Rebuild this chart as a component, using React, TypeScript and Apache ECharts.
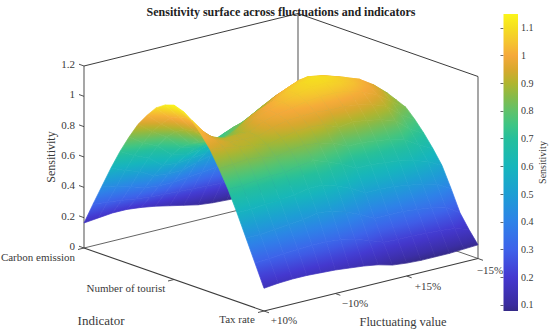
import React, { useEffect, useRef } from "react";
import * as echarts from "echarts";

const title = "Sensitivity surface across fluctuations and indicators";
const indicators = ["Carbon emission", "Number of tourist", "Tax rate"];
const fluctuations = ["+10%", "\u221210%", "+15%", "\u221215%"];
const zTicks = [0, 0.2, 0.4, 0.6, 0.8, 1, 1.2];
const barTicks = [0.1, 0.2, 0.3, 0.4, 0.5, 0.6, 0.7, 0.8, 0.9, 1, 1.1];
const barMin = 0.078;
const barMax = 1.15;

const colorValues = [0.078, 0.1, 0.2, 0.3, 0.4, 0.5, 0.6, 0.7, 0.75, 0.8, 0.85, 0.9, 0.95, 1.0, 1.05, 1.1, 1.15];
const colorHexes = ["#352a87", "#3a2c9e", "#4438d0", "#3e62ea", "#2e82e8", "#1d9ed4", "#16b6bc", "#25bf9c", "#3ec584", "#5fc26a", "#85bb4a", "#b0b52e", "#d9a82e", "#f5a93a", "#f5c52f", "#f5de20", "#fbf51a"];

// One list per fluctuation position (+10% ... -15%), values from Carbon emission to Tax rate.
const sensitivity = [
  [0.165, 0.31, 0.45, 0.59, 0.72, 0.835, 0.94, 1.02, 1.09, 1.13, 1.15, 1.13, 1.09, 1.02, 0.94, 0.835, 0.72, 0.585, 0.44, 0.295, 0.15],
  [0.175, 0.3, 0.42, 0.55, 0.67, 0.775, 0.87, 0.94, 1.0, 1.03, 1.04, 1.0, 0.975, 0.96, 0.93, 0.84, 0.72, 0.585, 0.44, 0.3, 0.16],
  [0.185, 0.29, 0.4, 0.52, 0.63, 0.73, 0.81, 0.865, 0.9, 0.915, 0.92, 0.915, 0.915, 0.925, 0.91, 0.85, 0.73, 0.595, 0.45, 0.31, 0.165],
  [0.185, 0.275, 0.37, 0.47, 0.56, 0.65, 0.72, 0.765, 0.795, 0.82, 0.85, 0.88, 0.92, 0.92, 0.9, 0.84, 0.74, 0.6, 0.46, 0.315, 0.165],
  [0.175, 0.265, 0.36, 0.46, 0.55, 0.625, 0.69, 0.735, 0.775, 0.81, 0.86, 0.9, 0.92, 0.915, 0.88, 0.82, 0.74, 0.61, 0.47, 0.32, 0.16],
  [0.16, 0.26, 0.36, 0.46, 0.56, 0.64, 0.7, 0.745, 0.79, 0.855, 0.93, 0.97, 0.97, 0.945, 0.9, 0.84, 0.76, 0.63, 0.49, 0.32, 0.155],
  [0.14, 0.255, 0.37, 0.49, 0.57, 0.66, 0.74, 0.8, 0.85, 0.92, 0.98, 1.0, 0.995, 0.97, 0.92, 0.85, 0.77, 0.63, 0.48, 0.31, 0.145],
  [0.12, 0.25, 0.38, 0.51, 0.63, 0.71, 0.77, 0.83, 0.89, 0.96, 1.02, 1.03, 1.01, 0.975, 0.925, 0.84, 0.74, 0.6, 0.45, 0.29, 0.135],
  [0.1, 0.245, 0.39, 0.525, 0.65, 0.74, 0.82, 0.89, 0.95, 1.02, 1.06, 1.06, 1.03, 0.98, 0.92, 0.82, 0.7, 0.56, 0.41, 0.26, 0.12],
  [0.09, 0.24, 0.39, 0.53, 0.66, 0.77, 0.87, 0.94, 1.0, 1.06, 1.09, 1.08, 1.04, 0.97, 0.88, 0.775, 0.65, 0.51, 0.36, 0.225, 0.095],
  [0.085, 0.24, 0.4, 0.54, 0.67, 0.785, 0.89, 0.97, 1.04, 1.085, 1.105, 1.085, 1.04, 0.97, 0.89, 0.775, 0.65, 0.51, 0.36, 0.22, 0.085],
  [0.08, 0.235, 0.39, 0.53, 0.66, 0.775, 0.88, 0.96, 1.03, 1.07, 1.085, 1.07, 1.03, 0.96, 0.88, 0.765, 0.64, 0.505, 0.36, 0.22, 0.08],
  [0.08, 0.23, 0.38, 0.52, 0.65, 0.76, 0.86, 0.94, 1.0, 1.04, 1.055, 1.04, 1.0, 0.94, 0.86, 0.75, 0.63, 0.49, 0.35, 0.215, 0.08],
  [0.08, 0.225, 0.37, 0.505, 0.63, 0.735, 0.83, 0.905, 0.96, 1.0, 1.02, 1.0, 0.96, 0.905, 0.83, 0.725, 0.61, 0.475, 0.34, 0.21, 0.08],
  [0.08, 0.215, 0.35, 0.475, 0.59, 0.69, 0.78, 0.85, 0.91, 0.945, 0.96, 0.935, 0.89, 0.825, 0.75, 0.67, 0.58, 0.45, 0.32, 0.2, 0.085],
  [0.08, 0.205, 0.33, 0.45, 0.56, 0.66, 0.74, 0.81, 0.87, 0.885, 0.88, 0.855, 0.83, 0.77, 0.7, 0.62, 0.53, 0.4, 0.26, 0.17, 0.09],
];

const SERIF = '"Liberation Serif", "Times New Roman", serif';
const TEXT = "#3a3a3a";

// Parallel projection of the 3-D box onto the page plane.
const ORIGIN = [84, 248];
const U_VEC = [180, 63];
const V_VEC = [214, -52.5];
const Z_SCALE = 151.67;
const project = (u: number, v: number, z: number) => [
  ORIGIN[0] + u * U_VEC[0] + v * V_VEC[0],
  ORIGIN[1] + u * U_VEC[1] + v * V_VEC[1] - z * Z_SCALE,
];

const parse = (h: string) => [1, 3, 5].map((i) => parseInt(h.slice(i, i + 2), 16));
const colorAt = (z: number) => {
  const c = Math.max(barMin, Math.min(barMax, z));
  let k = 0;
  while (k < colorValues.length - 2 && c > colorValues[k + 1]) k++;
  const t = (c - colorValues[k]) / (colorValues[k + 1] - colorValues[k]);
  const a = parse(colorHexes[k]);
  const b = parse(colorHexes[k + 1]);
  return `rgb(${a.map((x, i) => Math.round(x + (b[i] - x) * t)).join(",")})`;
};

const nV = sensitivity.length;
const nU = sensitivity[0].length;
const cells: number[][] = [];
for (let iu = 0; iu < nU - 1; iu++) {
  for (let iv = nV - 2; iv >= 0; iv--) cells.push([iu, iv]);
}

function quadFill(pts: number[][], zs: number[]) {
  const n = 4;
  const mx = pts.reduce((s, p) => s + p[0], 0) / n;
  const my = pts.reduce((s, p) => s + p[1], 0) / n;
  const mz = zs.reduce((s, z) => s + z, 0) / n;
  let sxx = 0, sxy = 0, syy = 0, sxz = 0, syz = 0;
  pts.forEach((p, i) => {
    const dx = p[0] - mx, dy = p[1] - my, dz = zs[i] - mz;
    sxx += dx * dx; sxy += dx * dy; syy += dy * dy; sxz += dx * dz; syz += dy * dz;
  });
  const det = sxx * syy - sxy * sxy;
  const zMin = Math.min(...zs), zMax = Math.max(...zs);
  if (Math.abs(det) < 1 || zMax - zMin < 1e-4) return colorAt(mz);
  const a = (sxz * syy - syz * sxy) / det;
  const b = (syz * sxx - sxz * sxy) / det;
  const g2 = a * a + b * b;
  if (g2 < 1e-10) return colorAt(mz);
  const x0 = mx + (a * (zMin - mz)) / g2, y0 = my + (b * (zMin - mz)) / g2;
  const x1 = mx + (a * (zMax - mz)) / g2, y1 = my + (b * (zMax - mz)) / g2;
  const stops = [0, 0.25, 0.5, 0.75, 1].map((o) => ({ offset: o, color: colorAt(zMin + (zMax - zMin) * o) }));
  return new echarts.graphic.LinearGradient(x0, y0, x1, y1, stops, true);
}

const line = (api: any, a: number[], b: number[], stroke: string, lineWidth: number) => {
  const p = api.coord(a), q = api.coord(b);
  return { type: "line", shape: { x1: p[0], y1: p[1], x2: q[0], y2: q[1] }, style: { stroke, lineWidth } };
};
const label = (api: any, at: number[], text: string, fontSize: number, align = "center", rotation = 0) => {
  const p = api.coord(at);
  return {
    type: "text", x: p[0], y: p[1], rotation,
    style: { text, fontSize, fontFamily: SERIF, fill: TEXT, align, verticalAlign: "middle" },
  };
};

function frameItems(_: any, api: any) {
  const dark = "#3c3c3c";
  const grey = "#777777";
  const L = [project(0, 0, 0), project(0, 0, 1.2)];
  const B = [project(0, 1, 0), project(0, 1, 1.2)];
  const R = [project(1, 1, 0), project(1, 1, 1.2)];
  const F = project(1, 0, 0);
  const kids: any[] = [
    line(api, L[0], L[1], grey, 1.3),
    line(api, B[0], B[1], grey, 1.3),
    line(api, R[0], R[1], grey, 1.3),
    line(api, L[1], B[1], dark, 1),
    line(api, B[1], R[1], dark, 1),
    line(api, L[0], B[0], dark, 0.8),
    line(api, B[0], R[0], dark, 0.8),
    line(api, L[0], F, dark, 1.1),
    line(api, F, R[0], dark, 1.1),
  ];
  zTicks.forEach((t) => {
    const p = project(0, 0, t);
    kids.push(line(api, p, [p[0] - 5, p[1] - 1.8], dark, 0.9));
    kids.push(label(api, [p[0] - 9, p[1] - 2], String(t), 11, "right"));
  });
  indicators.forEach((_t, i) => {
    const p = project(i / (indicators.length - 1), 0, 0);
    kids.push(line(api, p, [p[0] - 6, p[1] + 1.5], dark, 0.9));
  });
  fluctuations.forEach((_t, i) => {
    const p = project(1, i / (fluctuations.length - 1), 0);
    kids.push(line(api, p, [p[0] + 5, p[1] + 1.8], dark, 0.9));
  });
  const indicatorAnchors = [[38, 257], [126, 288], [237, 319]];
  indicators.forEach((t, i) => kids.push(label(api, indicatorAnchors[i], t, 11)));
  const fluctuationAnchors = [[284, 320], [355, 303], [428, 286], [490, 270]];
  fluctuations.forEach((t, i) => kids.push(label(api, fluctuationAnchors[i], t, 11)));
  kids.push(label(api, [101, 320], "Indicator", 13));
  kids.push(label(api, [403, 322], "Fluctuating value", 12.5));
  kids.push(label(api, [51, 157], "Sensitivity", 12, "center", Math.PI / 2));
  return { type: "group", children: kids };
}

function surfaceItem(_: any, api: any) {
  const iu = api.value(0), iv = api.value(1);
  const corners = [[iu, iv], [iu + 1, iv], [iu + 1, iv + 1], [iu, iv + 1]];
  const zs = corners.map(([a, b]) => sensitivity[b][a]);
  const pts = corners.map(([a, b], k) => api.coord(project(a / (nU - 1), b / (nV - 1), zs[k])));
  const fill = quadFill(pts, zs);
  return { type: "polygon", shape: { points: pts }, style: { fill, stroke: fill, lineWidth: 0.7 } };
}

function barItem(_: any, api: any) {
  const top = api.coord([0, barMax]);
  const bottom = api.coord([1, barMin]);
  const stops = colorValues.map((v, i) => ({ offset: (barMax - v) / (barMax - barMin), color: colorHexes[i] })).reverse();
  return {
    type: "rect",
    shape: { x: top[0], y: top[1], width: bottom[0] - top[0], height: bottom[1] - top[1] },
    style: { fill: new echarts.graphic.LinearGradient(0, 0, 0, 1, stops) },
  };
}

export default function App() {
  const ref = useRef<HTMLDivElement>(null);
  useEffect(() => {
    document.body.style.margin = "0";
    const chart = echarts.init(ref.current!, null, { renderer: "svg" });
    chart.setOption({
      animation: false,
      backgroundColor: "#ffffff",
      title: {
        text: title, left: 276, top: 1, textAlign: "center",
        textStyle: { fontFamily: SERIF, fontSize: 12, fontWeight: "bold", color: "#222222" },
      },
      grid: [
        { left: 0, top: 0, right: 0, bottom: 0 },
        { left: 503.5, top: 14, width: 14.5, height: 297 },
      ],
      xAxis: [
        { type: "value", min: 0, max: 550, show: false, gridIndex: 0 },
        { type: "value", min: 0, max: 1, show: false, gridIndex: 1 },
      ],
      yAxis: [
        { type: "value", min: 0, max: 332, inverse: true, show: false, gridIndex: 0 },
        {
          type: "value", min: barMin, max: barMax, gridIndex: 1, position: "right",
          splitLine: { show: false }, axisLine: { show: false },
          axisTick: { show: true, inside: true, length: 3, customValues: barTicks, lineStyle: { color: "#444444", width: 0.8 } },
          axisLabel: { show: true, customValues: barTicks, margin: 3, fontFamily: SERIF, fontSize: 10, color: TEXT, formatter: (v: number) => String(v) },
          name: "Sensitivity", nameLocation: "middle", nameRotate: 90, nameGap: 17,
          nameTextStyle: { fontFamily: SERIF, fontSize: 10, color: TEXT },
        },
      ],
      series: [
        { type: "custom", xAxisIndex: 0, yAxisIndex: 0, silent: true, clip: false, data: [[0, 0]], renderItem: frameItems },
        { type: "custom", xAxisIndex: 0, yAxisIndex: 0, silent: true, clip: false, data: cells, renderItem: surfaceItem },
        { type: "custom", xAxisIndex: 1, yAxisIndex: 1, silent: true, clip: false, data: [[0, barMin]], renderItem: barItem },
      ],
    });
    return () => chart.dispose();
  }, []);
  return <div ref={ref} style={{ width: 550, height: 332 }} />;
}
